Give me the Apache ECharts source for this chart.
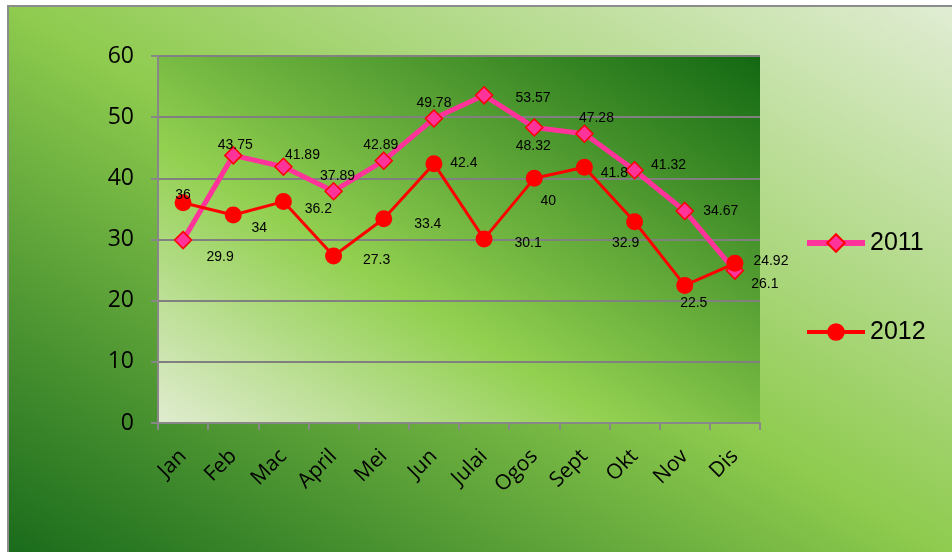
<!DOCTYPE html>
<html>
<head>
<meta charset="utf-8">
<script src="https://cdn.jsdelivr.net/npm/echarts@6/dist/echarts.min.js"></script>
<style>
  html, body { margin: 0; padding: 0; background: #fff; }
  #chart { width: 952px; height: 552px; }
</style>
</head>
<body>
<div id="chart"></div>
<script>
// 类别与数据
const months = ['Jan', 'Feb', 'Mac', 'April', 'Mei', 'Jun', 'Julai', 'Ogos', 'Sept', 'Okt', 'Nov', 'Dis'];
const sales2011 = [29.9, 43.75, 41.89, 37.89, 42.89, 49.78, 53.57, 48.32, 47.28, 41.32, 34.67, 24.92];
const sales2012 = [36, 34, 36.2, 27.3, 33.4, 42.4, 30.1, 40, 41.8, 32.9, 22.5, 26.1];

// 数据标签的偏移（样式，和数据分开）
const offsets2011 = [[37, 17], [2, -10], [19, -12], [4, -15], [-3, -16], [0, -15], [49, 3], [-1, 19], [12, -16], [34, -5], [36, 0], [36, -9]];
const offsets2012 = [[0, -8], [26, 13], [35, 8], [43, 4], [44, 5], [30, -1], [44, 4], [14, 23], [30, 6], [-9, 21], [9, 18], [30, 21]];

const withLabels = (values, offsets) => values.map((v, i) => ({
  value: v,
  label: { offset: offsets[i] }
}));

// 对角渐变：等色线穿过左上角和右下角（类似 Excel 的填充效果）
const diagGradient = (w, h, stops) => {
  const l2 = w * w + h * h;
  const a = (h * h) / l2;
  const b = (w * w) / l2;
  return new echarts.graphic.LinearGradient(0.5 - a, 0.5 + b, 0.5 + a, 0.5 - b, stops);
};

const chart = echarts.init(document.getElementById('chart'));

const labelStyle = {
  show: true,
  position: 'inside',
  color: '#000',
  fontSize: 14,
  fontFamily: 'Liberation Sans, Arial, sans-serif'
};

const option = {
  backgroundColor: '#fff',
  animation: false,
  graphic: [{
    type: 'rect',
    z: -10,
    shape: { x: 8, y: 6, width: 960, height: 560 },
    style: {
      fill: diagGradient(960, 560, [
        { offset: 0, color: '#16681a' },
        { offset: 0.5, color: '#8ecb4e' },
        { offset: 1, color: '#e2edd6' }
      ]),
      stroke: '#8c8c8c',
      lineWidth: 2
    }
  }],
  grid: {
    left: 158,
    top: 56,
    right: 192,
    bottom: 129,
    show: true,
    borderWidth: 0,
    backgroundColor: diagGradient(602, 367, [
      { offset: 0, color: '#e0ecd0' },
      { offset: 0.38, color: '#92d050' },
      { offset: 1, color: '#126812' }
    ])
  },
  legend: {
    orient: 'vertical',
    left: 799,
    top: 223,
    itemWidth: 58,
    itemHeight: 22,
    itemGap: 59,
    data: [
      { name: '2011', lineStyle: { width: 6 } },
      { name: '2012', lineStyle: { width: 4 } }
    ],
    textStyle: {
      color: '#000',
      fontSize: 25,
      lineHeight: 30,
      fontFamily: 'Liberation Sans, Arial, sans-serif'
    }
  },
  xAxis: {
    type: 'category',
    data: months,
    axisLine: { lineStyle: { color: '#888', width: 2 } },
    axisTick: { show: true, length: 7, lineStyle: { color: '#888', width: 2 } },
    axisLabel: {
      rotate: 45,
      margin: 30,
      color: '#000',
      fontSize: 21,
      fontFamily: 'Open Sans, sans-serif',
      interval: 0
    }
  },
  yAxis: {
    type: 'value',
    min: 0,
    max: 60,
    interval: 10,
    axisLine: { show: true, lineStyle: { color: '#888', width: 2 } },
    axisTick: { show: true, length: 7, lineStyle: { color: '#888', width: 2 } },
    axisLabel: {
      margin: 24,
      color: '#000',
      fontSize: 23,
      fontFamily: 'Open Sans, sans-serif'
    },
    splitLine: { lineStyle: { color: '#808080', width: 2 } }
  },
  series: [
    {
      name: '2011',
      type: 'line',
      data: withLabels(sales2011, offsets2011),
      symbol: 'diamond',
      symbolSize: 17,
      itemStyle: { color: '#ff3399', borderColor: '#ff0000', borderWidth: 1.5 },
      lineStyle: { color: '#ff3399', width: 5 },
      label: labelStyle,
      z: 2
    },
    {
      name: '2012',
      type: 'line',
      data: withLabels(sales2012, offsets2012),
      symbol: 'circle',
      symbolSize: 17,
      itemStyle: { color: '#ff0000', borderColor: '#ff0000', borderWidth: 0 },
      lineStyle: { color: '#ff0000', width: 3 },
      label: labelStyle,
      z: 3
    }
  ]
};

chart.setOption(option);
</script>
</body>
</html>
